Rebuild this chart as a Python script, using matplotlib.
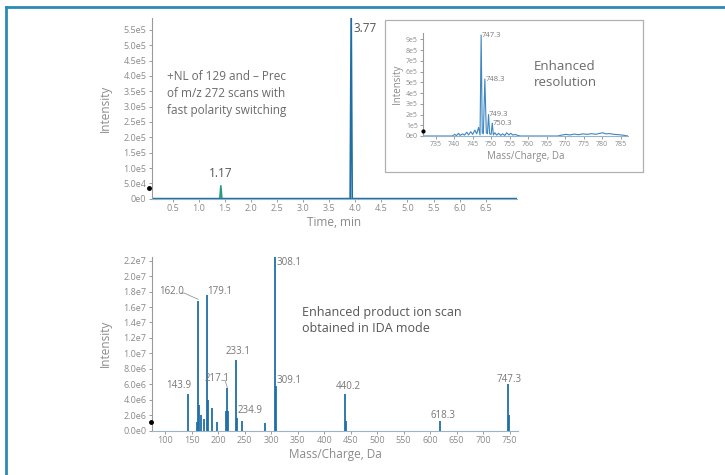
import numpy as np
import matplotlib
matplotlib.use("Agg")
import matplotlib.pyplot as plt
from matplotlib.patches import Rectangle
from matplotlib.lines import Line2D

plt.rcParams['font.family'] = ['Open Sans', 'DejaVu Sans']

# --- chromatogram (top) ---
time_pos = [0.1, 3.9, 3.92, 3.94, 7.1]
int_pos = [0, 0, 6.2e5, 0, 0]
time_neg = [0.1, 1.40, 1.42, 1.44, 7.1]
int_neg = [0, 0, 4.2e4, 0, 0]
chrom_peaks = [(1.42, 4.2e4, "1.17"), (3.92, 6.2e5, "3.77")]
top_yticks = [0, 5e4, 1e5, 1.5e5, 2e5, 2.5e5, 3e5, 3.5e5, 4e5, 4.5e5, 5e5, 5.5e5]
top_ylabels = ["0e0", "5.0e4", "1.0e5", "1.5e5", "2.0e5", "2.5e5", "3.0e5",
               "3.5e5", "4.0e5", "4.5e5", "5.0e5", "5.5e5"]
top_xticks = [0.5, 1.0, 1.5, 2.0, 2.5, 3.0, 3.5, 4.0, 4.5, 5.0, 5.5, 6.0, 6.5]

# --- enhanced resolution inset (profile trace) ---
ins_mz = [731.5, 739.5, 740.2, 740.6, 741.2, 741.6, 742.3, 742.8, 743.4, 743.9,
          744.5, 745.0, 745.6, 746.1, 746.6, 747.0, 747.3, 747.6, 747.9, 748.3,
          748.7, 749.0, 749.3, 749.6, 750.0, 750.3, 750.6, 751.0, 751.5, 752.0,
          752.6, 753.1, 753.7, 754.2, 754.8, 755.3, 755.9, 756.5, 757.2, 758.0,
          768.0, 769.0, 770.2, 771.3, 772.5, 773.6, 774.8, 776.0, 777.1, 778.3,
          779.4, 780.2, 781.0, 782.1, 783.3, 784.5, 785.6, 787.0]
ins_int = [0, 0, 1.5e4, 3e3, 2.5e4, 5e3, 2e4, 8e3, 3.5e4, 1e4,
           4e4, 1.5e4, 5.5e4, 2e4, 8e4, 1e4, 9.4e5, 3e4, 2e4, 5.3e5,
           3e4, 2e4, 2.0e5, 2e4, 1.5e4, 1.2e5, 1e4, 3e4, 8e3, 2.5e4,
           6e3, 2e4, 5e3, 3e4, 1e4, 2.5e4, 8e3, 1.5e4, 5e3, 0,
           0, 8e3, 1.5e4, 1e4, 1.8e4, 1.2e4, 2e4, 1.5e4, 2.2e4, 1.6e4,
           2.5e4, 3e4, 2e4, 2.2e4, 1.5e4, 1.2e4, 8e3, 0]
ins_labels = [(747.3, 9.4e5, "747.3"), (748.3, 5.3e5, "748.3"),
              (749.3, 2.0e5, "749.3"), (750.3, 1.2e5, "750.3")]
ins_yticks = [0, 1e5, 2e5, 3e5, 4e5, 5e5, 6e5, 7e5, 8e5, 9e5]
ins_ylabels = ["0e0", "1e5", "2e5", "3e5", "4e5", "5e5", "6e5", "7e5", "8e5", "9e5"]
ins_xticks = [735, 740, 745, 750, 755, 760, 765, 770, 775, 780, 785]

# --- enhanced product ion scan (bottom) ---
epi_mz = [143.9, 160.0, 162.0, 164.5, 167.0, 172.5, 179.1, 181.0, 188.0, 198.0,
          215.5, 217.1, 218.5, 233.1, 234.9, 244.0, 288.0, 308.1, 309.1, 440.2,
          441.2, 618.3, 747.3, 748.3]
epi_int = [4.8e6, 1.1e6, 1.68e7, 3.3e6, 2.0e6, 1.5e6, 1.75e7, 4.0e6, 2.9e6, 1.1e6,
           2.5e6, 5.5e6, 2.5e6, 9.1e6, 1.6e6, 1.3e6, 1.0e6, 2.3e7, 5.8e6, 4.8e6,
           1.3e6, 1.3e6, 6.1e6, 2.0e6]
epi_labels = ["143.9", "162.0", "179.1", "217.1", "233.1", "234.9",
              "308.1", "309.1", "440.2", "618.3", "747.3"]
bot_yticks = [0, 2e6, 4e6, 6e6, 8e6, 1e7, 1.2e7, 1.4e7, 1.6e7, 1.8e7, 2e7, 2.2e7]
bot_ylabels = ["0.0e0", "2.0e6", "4.0e6", "6.0e6", "8.0e6", "1.0e7", "1.2e7",
               "1.4e7", "1.6e7", "1.8e7", "2.0e7", "2.2e7"]
bot_xticks = [100, 150, 200, 250, 300, 350, 400, 450, 500, 550, 600, 650, 700, 750]

TICK = "#8a8a8a"
TXT = "#555555"
BLUE = "#1f6fa6"
TEAL = "#2a9a88"
W, H = 725, 475


def box(x0, y0, x1, y1):
    # pixel box (top-left origin) -> figure fraction rect
    return [x0 / W, 1 - y1 / H, (x1 - x0) / W, (y1 - y0) / H]


def style(ax, fs=6.5):
    for s in ["top", "right"]:
        ax.spines[s].set_visible(False)
    ax.spines["left"].set_color("#9a9a9a")
    ax.spines["bottom"].set_color("#9ab3c7")
    ax.spines["left"].set_linewidth(0.8)
    ax.spines["bottom"].set_linewidth(0.8)
    ax.tick_params(colors=TICK, labelsize=fs, length=2.5, width=0.6, pad=1.5)


fig = plt.figure(figsize=(7.25, 4.75), dpi=100)

# top chromatogram
ax1 = fig.add_axes(box(152, 17.6, 517, 198.7))
ax1.plot(time_neg, int_neg, color=TEAL, lw=1.2)
ax1.plot(time_pos, int_pos, color=BLUE, lw=1.2)
ax1.set_xlim(0.1, 7.1)
ax1.set_ylim(0, 5.9e5)
ax1.set_yticks(top_yticks)
ax1.set_yticklabels(top_ylabels)
ax1.set_xticks(top_xticks)
ax1.set_xticklabels([f"{t:.1f}" for t in top_xticks])
style(ax1)
ax1.set_xlabel("Time, min", color=TICK, fontsize=8.5, labelpad=2)
ax1.set_ylabel("Intensity", color=TICK, fontsize=8.5, labelpad=8)
ax1.text(chrom_peaks[0][0], 6.0e4, chrom_peaks[0][2], ha="center", va="bottom",
         fontsize=8.5, color=TXT)
ax1.text(chrom_peaks[1][0] + 0.05, 5.55e5, chrom_peaks[1][2], ha="left", va="center",
         fontsize=8.5, color=TXT)
ax1.plot([0.04], [3.5e4], "o", color="black", ms=2.5, clip_on=False, zorder=5)
ax1.text(0.38, 4.2e5, "+NL of 129 and \u2013 Prec\nof m/z 272 scans with\nfast polarity switching",
         ha="left", va="top", fontsize=8.5, color="#6a6a6a", linespacing=1.4)

# inset frame
fig.patches.append(Rectangle((385 / W, 1 - 172 / H), (643 - 385) / W, (172 - 20) / H,
                             transform=fig.transFigure, facecolor="white",
                             edgecolor="#b0b0b0", lw=0.9, zorder=3))

ax2 = fig.add_axes(box(422.7, 32.9, 628, 136))
ax2.set_zorder(4)
ax2.patch.set_alpha(0)
ax2.plot(ins_mz, ins_int, color="#3d86c0", lw=0.8)
ax2.set_xlim(731.5, 787)
ax2.set_ylim(0, 9.6e5)
ax2.set_yticks(ins_yticks)
ax2.set_yticklabels(ins_ylabels)
ax2.set_xticks(ins_xticks)
style(ax2, fs=5)
ax2.tick_params(length=2)
ax2.set_xlabel("Mass/Charge, Da", color=TICK, fontsize=7, labelpad=2)
ax2.set_ylabel("Intensity", color=TICK, fontsize=7, labelpad=2)
for mz, y, lab in ins_labels:
    ax2.text(mz + 0.1, y, lab, ha="left", va="center", fontsize=5.5, color="#777777")
ax2.plot([731.5], [5e4], "o", color="black", ms=2, clip_on=False, zorder=5)
ax2.text(761.5, 5.7e5, "Enhanced\nresolution", ha="left", va="center",
         fontsize=9.5, color="#6a6a6a", linespacing=1.3)

# bottom product ion scan
ax3 = fig.add_axes(box(152, 256.8, 518, 430.7))
ax3.vlines(epi_mz, 0, epi_int, color=BLUE, lw=1.3)
ax3.set_xlim(75, 766)
ax3.set_ylim(0, 2.25e7)
ax3.set_yticks(bot_yticks)
ax3.set_yticklabels(bot_ylabels)
ax3.set_xticks(bot_xticks)
style(ax3)
ax3.set_xlabel("Mass/Charge, Da", color=TICK, fontsize=8.5, labelpad=2)
ax3.set_ylabel("Intensity", color=TICK, fontsize=8.5, labelpad=8)
ax3.plot([73], [1.16e6], "o", color="black", ms=2.5, clip_on=False, zorder=5)

lab_pos = {
    "143.9": (126, 5.8e6, "center"),
    "162.0": (112, 1.8e7, "center"),
    "179.1": (180, 1.8e7, "left"),
    "217.1": (197, 6.8e6, "center"),
    "233.1": (237, 1.03e7, "center"),
    "234.9": (237, 2.6e6, "left"),
    "308.1": (310, 2.17e7, "left"),
    "309.1": (311, 6.55e6, "left"),
    "440.2": (446, 5.7e6, "center"),
    "618.3": (625, 1.94e6, "center"),
    "747.3": (750, 6.65e6, "center"),
}
for lab in epi_labels:
    x, y, ha = lab_pos[lab]
    ax3.text(x, y, lab, ha=ha, va="center", fontsize=7, color="#777777")
# small leader lines
ax3.plot([130, 136, 162.0], [1.78e7, 1.78e7, 1.7e7], color="#999999", lw=0.6)
ax3.plot([209, 213, 217.1], [6.5e6, 6.5e6, 5.6e6], color="#999999", lw=0.6)
ax3.text(358, 1.43e7, "Enhanced product ion scan\nobtained in IDA mode",
         ha="left", va="center", fontsize=9, color="#555555", linespacing=1.3)

# page frame (left and top rules)
fig.add_artist(Line2D([5.5 / W, 5.5 / W], [0, 1 - 6.5 / H], transform=fig.transFigure,
                      color="#2b8cb3", lw=2))
fig.add_artist(Line2D([5.5 / W, 1], [1 - 6.5 / H, 1 - 6.5 / H], transform=fig.transFigure,
                      color="#2b8cb3", lw=2))

fig.savefig("out.png", dpi=100)
